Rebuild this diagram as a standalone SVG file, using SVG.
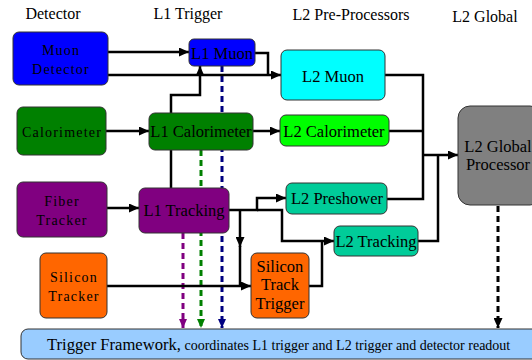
<svg xmlns="http://www.w3.org/2000/svg" width="532" height="360" viewBox="0 0 532 360">
<style>
text{font-family:"Liberation Serif","Times New Roman",serif;fill:#000;text-anchor:middle}
.hd{font-size:16px}
.nl{font-size:16.5px}
.dt{font-size:14px;letter-spacing:1.2px}
.box{stroke:#333;stroke-width:1}
.c{fill:none;stroke:#000;stroke-width:2.5}
.d{fill:none;stroke-width:3;stroke-dasharray:6,4}
</style>
<defs>
<marker id="ak" markerUnits="userSpaceOnUse" markerWidth="10" markerHeight="9" refX="10" refY="4.5" orient="auto"><path d="M0,0L10,4.5L0,9z" fill="#000"/></marker>
<marker id="ab" markerUnits="userSpaceOnUse" markerWidth="9" markerHeight="8" refX="9" refY="4" orient="auto"><path d="M0,0L9,4L0,8z" fill="#000080"/></marker>
<marker id="ag" markerUnits="userSpaceOnUse" markerWidth="9" markerHeight="8" refX="9" refY="4" orient="auto"><path d="M0,0L9,4L0,8z" fill="#008000"/></marker>
<marker id="ap" markerUnits="userSpaceOnUse" markerWidth="9" markerHeight="8" refX="9" refY="4" orient="auto"><path d="M0,0L9,4L0,8z" fill="#800080"/></marker>
</defs>
<g id="headers">
<text class="hd" x="53" y="19">Detector</text>
<text class="hd" x="188" y="19">L1 Trigger</text>
<text class="hd" x="351" y="20">L2 Pre-Processors</text>
<text class="hd" x="485" y="22">L2 Global</text>
</g>
<g id="dashed">
<path class="d" stroke="#000080" d="M222,66V328" marker-end="url(#ab)"/>
<path class="d" stroke="#008000" d="M201,150V328" marker-end="url(#ag)"/>
<path class="d" stroke="#800080" d="M183,233V328" marker-end="url(#ap)"/>
<path class="d" stroke="#000" stroke-width="3.5" d="M498,206V328" marker-end="url(#ak)"/>
</g>
<g id="connectors">
<path class="c" d="M108,52H189" marker-end="url(#ak)"/>
<path class="c" d="M108,75H281" marker-end="url(#ak)"/>
<path class="c" d="M255,53H268V75"/>
<path class="c" d="M171,113V95H200V66" marker-end="url(#ak)"/>
<path class="c" d="M106,131H149" marker-end="url(#ak)"/>
<path class="c" d="M253,131H280" marker-end="url(#ak)"/>
<path class="c" d="M171,150V188"/>
<path class="c" d="M106,208H139" marker-end="url(#ak)"/>
<path class="c" d="M229,210H257V198H286" marker-end="url(#ak)"/>
<path class="c" d="M257,210H282V241H334" marker-end="url(#ak)"/>
<path class="c" d="M309,286H322V241"/>
<path class="c" d="M240,210V247" marker-end="url(#ak)"/>
<path class="c" d="M240,246V286"/>
<path class="c" d="M107,286H251" marker-end="url(#ak)"/>
<path class="c" d="M385,75H423V199H387"/>
<path class="c" d="M389,131H423"/>
<path class="c" d="M418,241H438V155"/>
<path class="c" stroke-width="3" d="M423,155H458" marker-end="url(#ak)"/>
</g>
<g id="muon-detector"><rect class="box" x="13" y="32" width="95" height="53" rx="6" fill="#0000ff"/><text class="dt" x="61" y="55">Muon</text><text class="dt" x="61" y="74">Detector</text></g>
<g id="calorimeter"><rect class="box" x="17" y="107" width="89" height="48" rx="6" fill="#008000"/><text class="dt" x="62" y="137">Calorimeter</text></g>
<g id="fiber-tracker"><rect class="box" x="17" y="182" width="90" height="55" rx="6" fill="#800080"/><text class="dt" x="62" y="206">Fiber</text><text class="dt" x="62" y="225">Tracker</text></g>
<g id="silicon-tracker"><rect class="box" x="40" y="253" width="67" height="65" rx="6" fill="#ff6600"/><text class="dt" x="74" y="282">Silicon</text><text class="dt" x="74" y="301">Tracker</text></g>
<g id="l1-muon"><rect class="box" x="189" y="39" width="66" height="27" rx="5" fill="#0000ff"/><text class="nl" x="222" y="59">L1 Muon</text></g>
<g id="l1-calorimeter"><rect class="box" x="149" y="113" width="104" height="37" rx="6" fill="#008000"/><text class="nl" x="201" y="137">L1 Calorimeter</text></g>
<g id="l1-tracking"><rect class="box" x="139" y="188" width="90" height="45" rx="6" fill="#800080"/><text class="nl" x="184" y="216">L1 Tracking</text></g>
<g id="stt"><rect class="box" x="251" y="253" width="58" height="65" rx="6" fill="#ff6600"/><text class="nl" x="280" y="272">Silicon</text><text class="nl" x="280" y="290">Track</text><text class="nl" x="280" y="309">Trigger</text></g>
<g id="l2-muon"><rect class="box" x="281" y="50" width="104" height="50" rx="6" fill="#00ffff"/><text class="nl" x="333" y="82">L2 Muon</text></g>
<g id="l2-calorimeter"><rect class="box" x="280" y="115" width="109" height="31" rx="6" fill="#00ff00"/><text class="nl" x="334" y="137">L2 Calorimeter</text></g>
<g id="l2-preshower"><rect class="box" x="286" y="183" width="101" height="31" rx="6" fill="#00cc99"/><text class="nl" x="337" y="204">L2 Preshower</text></g>
<g id="l2-tracking"><rect class="box" x="334" y="226" width="84" height="30" rx="6" fill="#00cc99"/><text class="nl" x="376" y="247">L2 Tracking</text></g>
<g id="l2-global"><rect class="box" x="458" y="106" width="84" height="99" rx="12" fill="#808080"/><text class="nl" x="498" y="152">L2 Global</text><text class="nl" x="498" y="170">Processor</text></g>
<g id="trigger-framework"><rect class="box" x="21" y="329" width="520" height="30" rx="7" fill="#99ccff"/><text x="47" y="350" style="text-anchor:start;font-size:16.6px">Trigger Framework,<tspan style="font-size:14px"> coordinates L1 trigger and L2 trigger and detector readout</tspan></text></g>
</svg>
